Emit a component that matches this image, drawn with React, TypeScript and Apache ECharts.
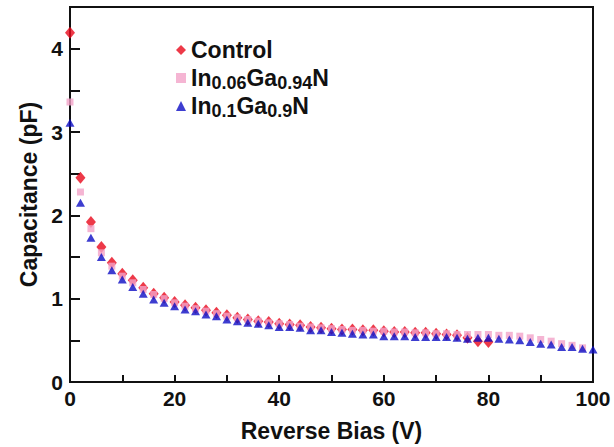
import React, { useEffect, useRef } from "react";
import * as echarts from "echarts";

const biasV = [
  0, 2, 4, 6, 8, 10, 12, 14, 16, 18, 20, 22, 24, 26, 28, 30, 32, 34, 36, 38, 40,
  42, 44, 46, 48, 50, 52, 54, 56, 58, 60, 62, 64, 66, 68, 70, 72, 74, 76, 78, 80,
  82, 84, 86, 88, 90, 92, 94, 96, 98, 100,
];

const controlC = [
  4.19, 2.45, 1.92, 1.62, 1.43, 1.3, 1.22, 1.13, 1.06, 1.01, 0.96, 0.92, 0.89, 0.86,
  0.83, 0.8, 0.77, 0.75, 0.73, 0.72, 0.7, 0.69, 0.68, 0.66, 0.65, 0.64, 0.63, 0.63,
  0.62, 0.62, 0.61, 0.6, 0.6, 0.59, 0.59, 0.58, 0.57, 0.56, 0.53, 0.49, 0.48,
];

const in006C = [
  3.36, 2.28, 1.84, 1.55, 1.39, 1.27, 1.19, 1.11, 1.05, 1.0, 0.95, 0.91, 0.88, 0.85,
  0.82, 0.79, 0.77, 0.75, 0.73, 0.71, 0.7, 0.69, 0.67, 0.66, 0.65, 0.64, 0.63, 0.62,
  0.62, 0.61, 0.61, 0.6, 0.6, 0.59, 0.59, 0.58, 0.58, 0.57, 0.57, 0.57, 0.57, 0.56,
  0.56, 0.55, 0.53, 0.51, 0.49, 0.46, 0.44, 0.41,
];

const in01C = [
  3.11, 2.15, 1.73, 1.5, 1.34, 1.23, 1.14, 1.06, 0.99, 0.95, 0.91, 0.87, 0.85, 0.81,
  0.79, 0.75, 0.73, 0.71, 0.7, 0.68, 0.66, 0.66, 0.65, 0.62, 0.62, 0.6, 0.59, 0.58,
  0.57, 0.57, 0.55, 0.55, 0.55, 0.54, 0.54, 0.54, 0.54, 0.53, 0.52, 0.53, 0.53, 0.52,
  0.51, 0.5, 0.48, 0.46, 0.45, 0.42, 0.42, 0.4, 0.39,
];

const seriesNames = ["Control", "In0.06Ga0.94N", "In0.1Ga0.9N"];
const legendRich: Record<string, string> = {
  Control: "{m|Control}",
  "In0.06Ga0.94N": "{m|In}{s|0.06}{m|Ga}{s|0.94}{m|N}",
  "In0.1Ga0.9N": "{m|In}{s|0.1}{m|Ga}{s|0.9}{m|N}",
};

const xTickLabels = ["0", "20", "40", "60", "80", "100"];
const yTickLabels = ["0", "1", "2", "3", "4"];

const FONT = "'Liberation Sans', Arial, sans-serif";

function pairs(vals: number[]) {
  return vals.map((v, i) => [biasV[i], v]);
}

export default function App() {
  const ref = useRef<HTMLDivElement>(null);
  useEffect(() => {
    if (!ref.current) return;
    const chart = echarts.init(ref.current, undefined, { renderer: "svg" });
    chart.setOption({
      animation: false,
      backgroundColor: "#ffffff",
      grid: {
        left: 70,
        right: 21,
        top: 7,
        bottom: 65,
        show: true,
        borderColor: "#111",
        borderWidth: 2,
        backgroundColor: "transparent",
      },
      legend: {
        orient: "vertical",
        left: 171,
        top: 31,
        itemWidth: 10,
        itemHeight: 10,
        itemGap: 0,
        data: [
          { name: seriesNames[0], icon: "diamond" },
          { name: seriesNames[1], icon: "rect" },
          { name: seriesNames[2], icon: "triangle" },
        ],
        formatter: (name: string) => legendRich[name] || name,
        textStyle: {
          fontFamily: FONT,
          fontWeight: "bold",
          fontSize: 23,
          color: "#111",
          lineHeight: 28,
          rich: {
            m: {
              fontFamily: FONT,
              fontWeight: "bold",
              fontSize: 23,
              color: "#111",
              lineHeight: 28,
              verticalAlign: "middle",
            },
            s: {
              fontFamily: FONT,
              fontWeight: "bold",
              fontSize: 18,
              color: "#111",
              lineHeight: 8,
              verticalAlign: "bottom",
            },
          },
        },
      },
      xAxis: {
        type: "value",
        min: 0,
        max: 100,
        interval: 10,
        name: "Reverse Bias (V)",
        nameLocation: "middle",
        nameGap: 37,
        nameTextStyle: {
          fontFamily: FONT,
          fontWeight: "bold",
          fontSize: 23,
          color: "#111",
        },
        axisLine: { show: true, lineStyle: { color: "#111", width: 2 } },
        axisTick: { show: true, inside: true, length: 7, lineStyle: { color: "#111", width: 2 } },
        splitLine: { show: false },
        axisLabel: {
          margin: 6,
          fontFamily: FONT,
          fontWeight: "bold",
          fontSize: 21,
          color: "#111",
          formatter: (v: number) => {
            const s = String(Math.round(v));
            return xTickLabels.includes(s) ? s : "";
          },
        },
      },
      yAxis: {
        type: "value",
        min: 0,
        max: 4.5,
        interval: 0.5,
        name: "Capacitance (pF)",
        nameLocation: "middle",
        nameGap: 30,
        nameTextStyle: {
          fontFamily: FONT,
          fontWeight: "bold",
          fontSize: 23,
          color: "#111",
        },
        axisLine: { show: true, lineStyle: { color: "#111", width: 2 } },
        axisTick: { show: true, inside: true, length: 10, lineStyle: { color: "#111", width: 2 } },
        splitLine: { show: false },
        axisLabel: {
          margin: 7,
          fontFamily: FONT,
          fontWeight: "bold",
          fontSize: 21,
          color: "#111",
          formatter: (v: number) => {
            const s = String(v);
            return yTickLabels.includes(s) ? s : "";
          },
        },
      },
      series: [
        {
          name: seriesNames[0],
          type: "scatter",
          symbol: "diamond",
          symbolSize: [10, 12],
          itemStyle: { color: "#e8081a" },
          data: pairs(controlC),
          z: 2,
        },
        {
          name: seriesNames[1],
          type: "scatter",
          symbol: "rect",
          symbolSize: 7,
          itemStyle: { color: "#f2a2c8" },
          data: pairs(in006C),
          z: 3,
        },
        {
          name: seriesNames[2],
          type: "scatter",
          symbol: "triangle",
          symbolSize: [9, 8],
          itemStyle: { color: "#0c0cc4" },
          data: pairs(in01C),
          z: 4,
        },
      ],
    });
    return () => chart.dispose();
  }, []);
  return (
    <div
      ref={ref}
      style={{ position: "fixed", left: 0, top: 0, width: 614, height: 447 }}
    />
  );
}
